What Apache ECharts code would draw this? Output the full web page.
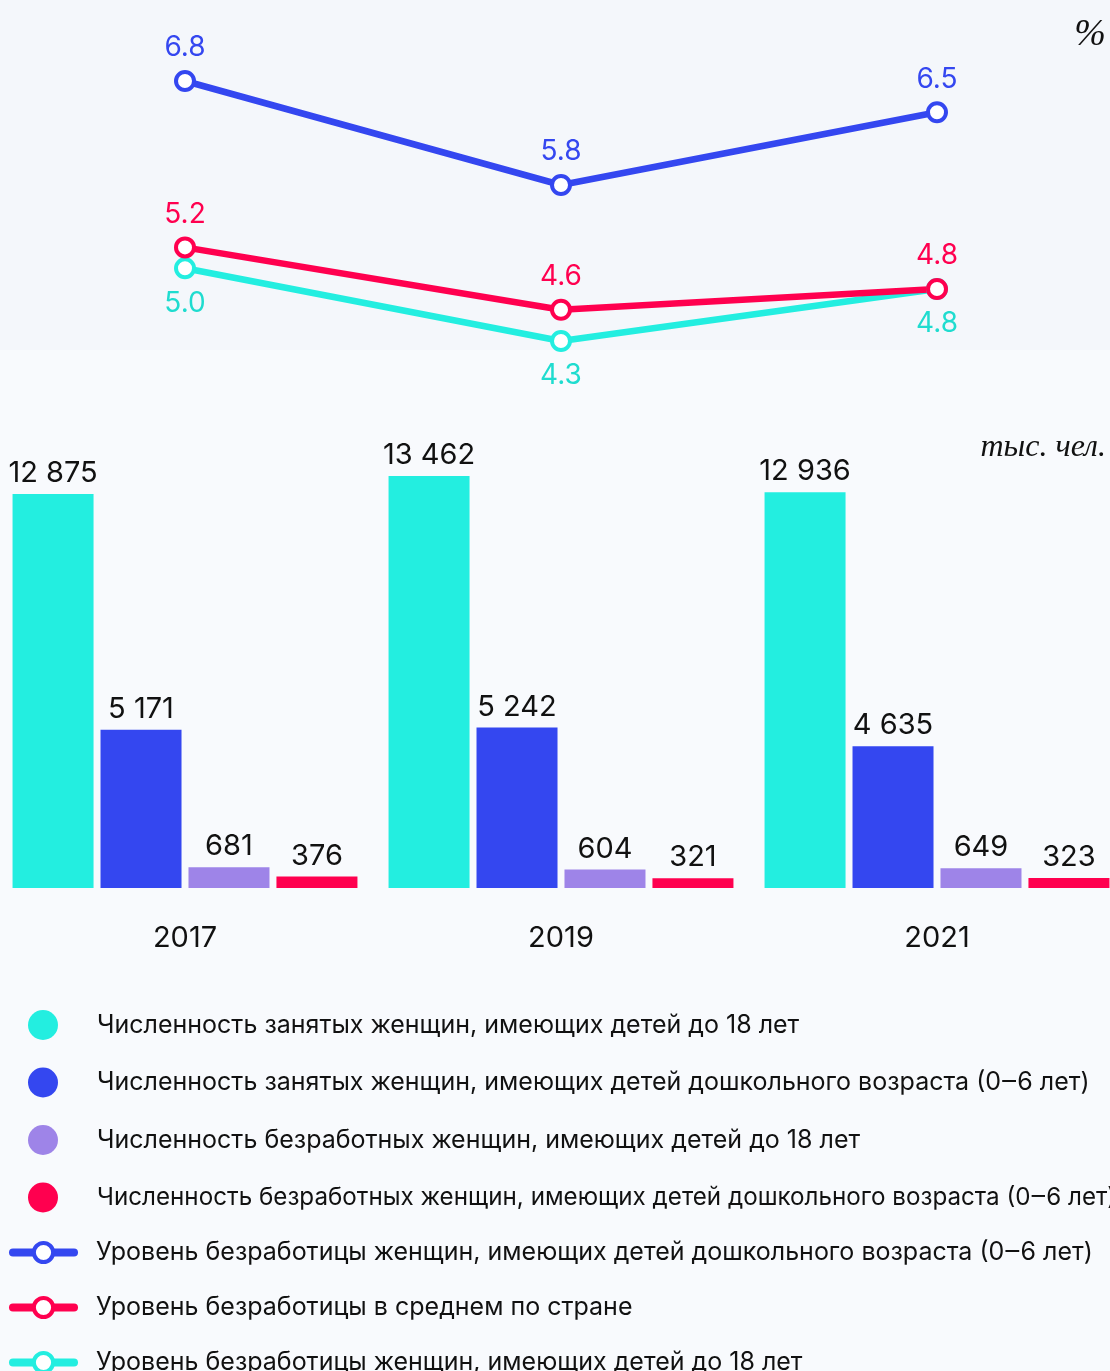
<!DOCTYPE html>
<html>
<head>
<meta charset="utf-8">
<script src="https://cdn.jsdelivr.net/npm/echarts@6/dist/echarts.min.js"></script>
<style>
  html, body { margin: 0; padding: 0; background: #f8fafd; }
  #chart { width: 1110px; height: 1371px; }
</style>
</head>
<body>
<div id="chart"></div>
<script>
const years = ['2017', '2019', '2021']

const employedKids18 = [12875, 13462, 12936]
const employedKids06 = [5171, 5242, 4635]
const unemployedKids18 = [681, 604, 649]
const unemployedKids06 = [376, 321, 323]

const rateKids06 = [6.8, 5.8, 6.5]
const rateCountry = [5.2, 4.6, 4.8]
const rateKids18 = [5.0, 4.3, 4.8]

const names = {
  emp18: 'Численность занятых женщин, имеющих детей до 18 лет',
  emp06: 'Численность занятых женщин, имеющих детей дошкольного возраста (0‒6 лет)',
  unemp18: 'Численность безработных женщин, имеющих детей до 18 лет',
  unemp06: 'Численность безработных женщин, имеющих детей дошкольного возраста (0‒6 лет)',
  rate06: 'Уровень безработицы женщин, имеющих детей дошкольного возраста (0‒6 лет)',
  rateAll: 'Уровень безработицы в среднем по стране',
  rate18: 'Уровень безработицы женщин, имеющих детей до 18 лет'
}

const CYAN = '#23eee0'
const BLUE = '#3447f0'
const PURPLE = '#9e84e8'
const RED = '#ff004f'
const FONT = 'Inter, Roboto, sans-serif'

const fmt = (v) => String(v).replace(/\B(?=(\d{3})+(?!\d))/g, ' ')

const chart = echarts.init(document.getElementById('chart'))

function barSeries(name, data, color) {
  return {
    name, type: 'bar', data,
    xAxisIndex: 1, yAxisIndex: 1,
    barWidth: 81, barGap: '8.6%',
    itemStyle: { color },
    label: {
      show: true, position: 'top', distance: 6,
      color: '#111', fontSize: 29, fontFamily: FONT,
      formatter: (p) => fmt(p.value)
    }
  }
}

function lineSeries(name, data, color, labelPos, dist, labelColor) {
  return {
    name, type: 'line', data,
    xAxisIndex: 0, yAxisIndex: 0,
    symbol: 'circle', symbolSize: 18,
    lineStyle: { color, width: 6.5 },
    itemStyle: { color: '#fff', borderColor: color, borderWidth: 4 },
    label: {
      show: true, position: labelPos, distance: dist,
      color: labelColor || color, fontSize: 28, fontFamily: FONT,
      formatter: (p) => p.value.toFixed(1)
    }
  }
}

chart.setOption({
  animation: false,
  backgroundColor: '#f8fafd',
  graphic: [
    { type: 'rect', z: -10, shape: { x: 0, y: 0, width: 1110, height: 350 }, style: { fill: '#f4f7fb' } },
    { type: 'text', right: 4, top: 16, style: { text: '%', font: 'italic 38px "Liberation Serif", serif', fill: '#111' } },
    { type: 'text', right: 4, top: 432, style: { text: 'тыс. чел.', font: 'italic 32px "Liberation Serif", serif', fill: '#111' } }
  ],
  grid: [
    { left: -3, width: 1128, top: 60.2, height: 312, outerBoundsMode: 'none' },
    { left: -3, width: 1128, top: 459.6, height: 428.4, outerBoundsMode: 'none' }
  ],
  xAxis: [
    { type: 'category', gridIndex: 0, data: years, show: false },
    {
      type: 'category', gridIndex: 1, data: years,
      axisLine: { show: false }, axisTick: { show: false },
      axisLabel: { margin: 36, color: '#111', fontSize: 29, fontFamily: FONT }
    }
  ],
  yAxis: [
    { type: 'value', gridIndex: 0, min: 4, max: 7, show: false },
    { type: 'value', gridIndex: 1, min: 0, max: 14000, show: false }
  ],
  legend: [
    {
      data: [
        names.emp18, names.emp06, names.unemp18,
        { name: names.unemp06, textStyle: { fontSize: 24.2 } }
      ],
      orient: 'vertical', left: 28, top: 1010, height: 260, padding: 0,
      icon: 'circle', itemWidth: 30, itemHeight: 30, itemGap: 27.5,
      textStyle: { fontSize: 25, color: '#111', fontFamily: FONT, padding: [0, 0, 0, 34] }
    },
    {
      data: [names.rate06, names.rateAll, names.rate18],
      orient: 'vertical', left: 9, top: 1240, height: 250, padding: 0,
      itemWidth: 61, itemHeight: 24, itemGap: 30,
      lineStyle: { width: 8, cap: 'round' },
      itemStyle: { borderWidth: 4 },
      textStyle: { fontSize: 25, color: '#111', fontFamily: FONT, padding: [0, 0, 0, 17] }
    }
  ],
  series: [
    barSeries(names.emp18, employedKids18, CYAN),
    barSeries(names.emp06, employedKids06, BLUE),
    barSeries(names.unemp18, unemployedKids18, PURPLE),
    barSeries(names.unemp06, unemployedKids06, RED),
    lineSeries(names.rate18, rateKids18, CYAN, 'bottom', 10, '#1fdccf'),
    lineSeries(names.rateAll, rateCountry, RED, 'top', 8),
    lineSeries(names.rate06, rateKids06, BLUE, 'top', 8)
  ]
})
</script>
</body>
</html>
